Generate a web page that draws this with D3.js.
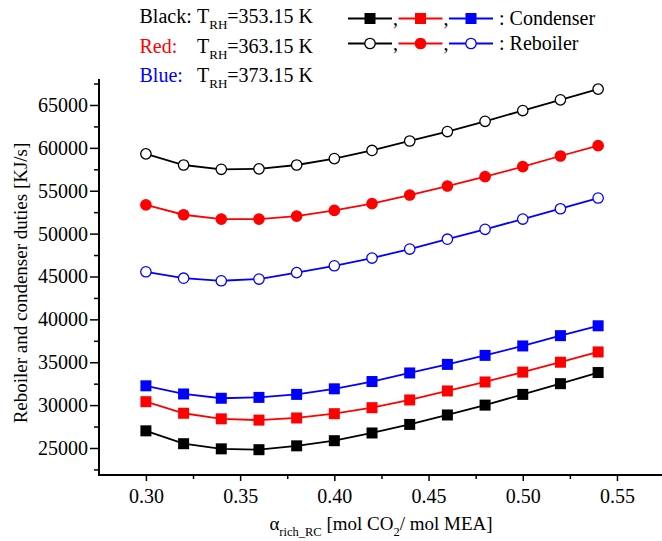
<!DOCTYPE html>
<html>
<head>
<meta charset="utf-8">
<script src="https://cdn.jsdelivr.net/npm/d3@7"></script>
<style>
  body { margin: 0; background: #ffffff; }
  svg text { font-family: "Liberation Serif", "Times New Roman", serif; }
</style>
</head>
<body>
<svg id="chart" width="662" height="541"></svg>
<script>
// Rich loading of the regenerated CO2 stream (x axis)
const alphaRich = [0.30, 0.32, 0.34, 0.36, 0.38, 0.40, 0.42, 0.44, 0.46, 0.48, 0.50, 0.52, 0.54];

// Condenser duties [kJ/s] for each reboiler temperature
const condenser353 = [27000, 25500, 24900, 24800, 25250, 25850, 26750, 27750, 28850, 30000, 31250, 32500, 33800];
const condenser363 = [30400, 29050, 28400, 28250, 28500, 29000, 29700, 30600, 31650, 32700, 33850, 35000, 36200];
const condenser373 = [32250, 31300, 30800, 30900, 31250, 31900, 32750, 33750, 34750, 35800, 36900, 38100, 39250];

// Reboiler duties [kJ/s] for each reboiler temperature
const reboiler353 = [59300, 58000, 57500, 57550, 58000, 58750, 59700, 60800, 61900, 63100, 64350, 65600, 66850];
const reboiler363 = [53350, 52200, 51700, 51700, 52050, 52700, 53500, 54500, 55550, 56650, 57800, 59050, 60250];
const reboiler373 = [45550, 44800, 44500, 44700, 45450, 46250, 47150, 48200, 49350, 50500, 51700, 52900, 54150];

// Axis ticks
const xMajorTicks = [0.30, 0.35, 0.40, 0.45, 0.50, 0.55];
const xMinorTicks = [0.325, 0.375, 0.425, 0.475, 0.525];
const yMajorTicks = [25000, 30000, 35000, 40000, 45000, 50000, 55000, 60000, 65000];
const yMinorTicks = [22500, 27500, 32500, 37500, 42500, 47500, 52500, 57500, 62500, 67500];

// Temperature key
const keyNames = ["Black:", "Red:", "Blue:"];
const keyTemps = ["=353.15 K", "=363.15 K", "=373.15 K"];
const keyColors = ["#000000", "#ff0000", "#0000ff"];

const series = [
  { values: condenser353, color: keyColors[0], shape: "square", fill: keyColors[0] },
  { values: condenser363, color: keyColors[1], shape: "square", fill: keyColors[1] },
  { values: condenser373, color: keyColors[2], shape: "square", fill: keyColors[2] },
  { values: reboiler353,  color: keyColors[0], shape: "circle", fill: "#ffffff" },
  { values: reboiler363,  color: keyColors[1], shape: "circle", fill: keyColors[1] },
  { values: reboiler373,  color: keyColors[2], shape: "circle", fill: "#ffffff" }
];

const svg = d3.select("#chart");

const x = d3.scaleLinear().domain([0.2751, 0.5739]).range([99, 662]);
const y = d3.scaleLinear().domain([21850, 68030]).range([475, 79]);

// ---- axes ----
function styleAxis(g) {
  g.select(".domain").remove();
  g.selectAll(".tick line").attr("stroke", "#000").attr("stroke-width", 1.5);
  g.selectAll(".tick text").attr("fill", "#000").style("font-size", "20px");
}

const yAxisMajor = svg.append("g").attr("transform", "translate(99,0)")
  .call(d3.axisLeft(y).tickValues(yMajorTicks).tickSize(9).tickPadding(2).tickFormat(d3.format("d")));
styleAxis(yAxisMajor);
const yAxisMinor = svg.append("g").attr("transform", "translate(99,0)")
  .call(d3.axisLeft(y).tickValues(yMinorTicks).tickSize(5).tickFormat(""));
styleAxis(yAxisMinor);

const xAxisMajor = svg.append("g").attr("transform", "translate(0,475)")
  .call(d3.axisBottom(x).tickValues(xMajorTicks).tickSize(6).tickPadding(8).tickFormat(d3.format(".2f")));
styleAxis(xAxisMajor);
const xAxisMinor = svg.append("g").attr("transform", "translate(0,475)")
  .call(d3.axisBottom(x).tickValues(xMinorTicks).tickSize(4).tickFormat(""));
styleAxis(xAxisMinor);

// axis lines (left and bottom only)
svg.append("path")
  .attr("d", `M${x.range()[0]},${y.range()[1]}V${y.range()[0]}H${x.range()[1]}`)
  .attr("fill", "none").attr("stroke", "#000").attr("stroke-width", 2);

// axis titles
const yTitle = svg.append("text")
  .attr("transform", "translate(27,283) rotate(-90)")
  .attr("text-anchor", "middle")
  .style("font-size", "19px")
  .text("Reboiler and condenser duties [KJ/s]");

const xTitle = svg.append("text")
  .attr("x", 381).attr("y", 530)
  .attr("text-anchor", "middle")
  .style("font-size", "19px");
xTitle.append("tspan").text("\u03b1");
xTitle.append("tspan").attr("dy", 6).style("font-size", "12.5px").text("rich_RC");
xTitle.append("tspan").attr("dy", -6).text(" [mol CO");
xTitle.append("tspan").attr("dy", 6).style("font-size", "12.5px").text("2");
xTitle.append("tspan").attr("dy", -6).text("/ mol MEA]");

// ---- markers ----
const MARK = 11;
function drawMarker(g, shape, cx, cy, stroke, fill) {
  if (shape === "square") {
    g.append("rect")
      .attr("x", cx - MARK / 2).attr("y", cy - MARK / 2)
      .attr("width", MARK).attr("height", MARK)
      .attr("fill", fill).attr("stroke", "none");
  } else {
    g.append("circle")
      .attr("cx", cx).attr("cy", cy).attr("r", MARK / 2 - 0.3)
      .attr("fill", fill).attr("stroke", stroke).attr("stroke-width", 1.3);
  }
}

// ---- series ----
const line = d3.line().x((d, i) => x(alphaRich[i])).y(d => y(d));
series.forEach(s => {
  const g = svg.append("g");
  g.append("path")
    .attr("d", line(s.values))
    .attr("fill", "none").attr("stroke", s.color).attr("stroke-width", 1.8);
  s.values.forEach((v, i) => drawMarker(g, s.shape, x(alphaRich[i]), y(v), s.color, s.fill));
});

// ---- temperature key ----
const keyRowY = [23, 52.5, 82];
keyNames.forEach((name, i) => {
  svg.append("text").attr("x", 139.5).attr("y", keyRowY[i])
    .attr("fill", keyColors[i]).style("font-size", "20px").text(name);
  const t = svg.append("text").attr("x", 197).attr("y", keyRowY[i])
    .attr("fill", "#000").style("font-size", "20px");
  t.append("tspan").text("T");
  t.append("tspan").attr("dy", 6).style("font-size", "13px").text("RH");
  t.append("tspan").attr("dy", -6).text(keyTemps[i]);
});

// ---- symbol legend ----
const legendRows = [
  { label: ": Condenser", shape: "square", fills: [keyColors[0], keyColors[1], keyColors[2]], lineY: 18.5, textY: 25 },
  { label: ": Reboiler",  shape: "circle", fills: ["#ffffff", keyColors[1], "#ffffff"],       lineY: 43.5, textY: 50 }
];
legendRows.forEach(row => {
  const g = svg.append("g");
  keyColors.forEach((c, i) => {
    const x0 = 348 + i * 50.5;
    g.append("line").attr("x1", x0).attr("x2", x0 + 44)
      .attr("y1", row.lineY).attr("y2", row.lineY)
      .attr("stroke", c).attr("stroke-width", 1.8);
    drawMarker(g, row.shape, x0 + 22, row.lineY, c, row.fills[i]);
    if (i < 2) {
      g.append("text").attr("x", x0 + 45).attr("y", row.textY)
        .style("font-size", "20px").text(",");
    }
  });
  g.append("text").attr("x", 499).attr("y", row.textY)
    .style("font-size", "20px").text(row.label);
});
</script>
</body>
</html>
